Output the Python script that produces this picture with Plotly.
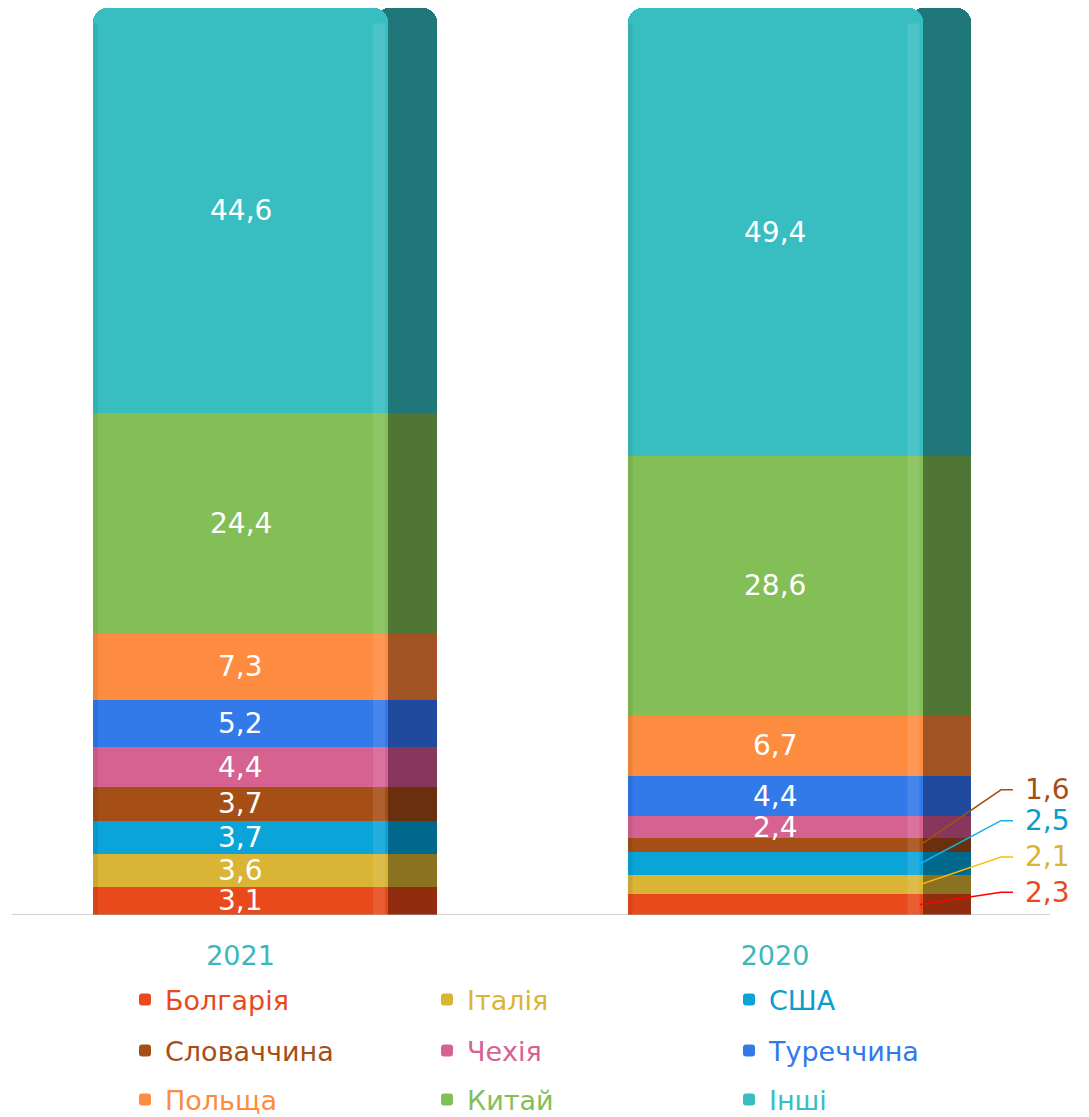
import plotly.graph_objects as go

# Import structure by country, % of total
years = ["2021", "2020"]
countries = ["Болгарія", "Італія", "США", "Словаччина", "Чехія",
             "Туреччина", "Польща", "Китай", "Інші"]
share_2021 = [3.1, 3.6, 3.7, 3.7, 4.4, 5.2, 7.3, 24.4, 44.6]
share_2020 = [2.3, 2.1, 2.5, 1.6, 2.4, 4.4, 6.7, 28.6, 49.4]

# Front face colour, side face colour and label colour for every country
front_colors = ["#E84A1B", "#DAB434", "#0AA4D9", "#A54F17", "#D66292",
                "#3279EA", "#FD8C40", "#84BE57", "#38BEC1"]
side_colors = ["#922C0E", "#8B7221", "#00688A", "#6A300D", "#87375C",
               "#1F4A9D", "#A15324", "#4F7634", "#20777A"]
text_colors = ["#E84A1B", "#DAB434", "#0A9CCF", "#A54F17", "#D66292",
               "#3279EA", "#FD8C40", "#84BE57", "#38BEC1"]
leader_colors = {"Болгарія": "#FF0000", "Італія": "#FFC000",
                 "США": "#12B0F0", "Словаччина": "#A54F17"}

# Geometry (x axis is laid out in pixels across the page width)
W, H = 1089, 1117
front_x = [240.5, 775.0]
front_w = 295
side_x = [406.0, 939.5]
side_w = 62
top_margin, bottom_margin = 8, 202

# Labels of thin 2020 segments are placed outside the bar
outside_2020 = {"Болгарія": 2.5, "Італія": 6.4, "США": 10.4, "Словаччина": 13.8}

FONT = "DejaVu Sans"

fig = go.Figure()

# side faces first so the front faces sit on top
for i, c in enumerate(countries):
    fig.add_trace(go.Bar(
        x=side_x, y=[share_2021[i], share_2020[i]], width=side_w,
        marker=dict(color=side_colors[i], line=dict(width=0)),
        showlegend=False, hoverinfo="skip",
    ))

legend_ids = ["legend", "legend", "legend",
              "legend2", "legend2", "legend2",
              "legend3", "legend3", "legend3"]
for i, c in enumerate(countries):
    fig.add_trace(go.Bar(
        x=front_x, y=[share_2021[i], share_2020[i]], width=front_w,
        marker=dict(color=front_colors[i], line=dict(width=0)),
        name=f"<span style='color:{text_colors[i]}'>{c}</span>",
        legend=legend_ids[i],
        hovertemplate=c + ": %{y}<extra></extra>",
    ))

def fmt(v):
    return f"{v:.1f}".replace(".", ",")

annotations = []
for col, values in enumerate([share_2021, share_2020]):
    cum = 0.0
    for i, v in enumerate(values):
        mid = cum + v / 2
        cum += v
        name = countries[i]
        if col == 1 and name in outside_2020:
            ly = outside_2020[name]
            fig.add_trace(go.Scatter(
                x=[920, 1001, 1013], y=[mid, ly, ly], mode="lines",
                line=dict(color=leader_colors[name], width=1.5),
                showlegend=False, hoverinfo="skip",
            ))
            annotations.append(dict(
                x=1023, y=ly, xref="x", yref="y", text=fmt(v),
                showarrow=False, xanchor="left", yanchor="middle",
                font=dict(family=FONT, size=28, color=text_colors[i]),
            ))
        else:
            annotations.append(dict(
                x=front_x[col], y=mid, xref="x", yref="y", text=fmt(v),
                showarrow=False, xanchor="center", yanchor="middle",
                font=dict(family=FONT, size=28, color="white"),
            ))

# soft shading on the front faces
shapes = []
for cx in front_x:
    left = cx - front_w / 2
    right = cx + front_w / 2
    shapes.append(dict(type="rect", xref="x", yref="y", x0=right - 15, x1=right - 3,
                       y0=0, y1=98.3, line=dict(width=0),
                       fillcolor="rgba(255,255,255,0.10)", layer="above"))
    shapes.append(dict(type="rect", xref="x", yref="y", x0=left, x1=left + 5,
                       y0=0, y1=98.3, line=dict(width=0),
                       fillcolor="rgba(0,0,0,0.07)", layer="above"))
# baseline
shapes.append(dict(type="line", xref="x", yref="y", x0=12, x1=1050, y0=0, y1=0,
                   line=dict(color="#A6A6A6", width=1.2), layer="above"))

plot_h = H - top_margin - bottom_margin

def py(pix):
    return (H - bottom_margin - pix) / plot_h

legend_common = dict(orientation="h", xanchor="left", yanchor="middle",
                     x=125 / W, entrywidth=257, entrywidthmode="pixels",
                     font=dict(family=FONT, size=27), traceorder="normal",
                     bgcolor="rgba(0,0,0,0)", itemclick=False, itemdoubleclick=False)

fig.update_layout(
    width=W, height=H,
    margin=dict(l=0, r=0, t=top_margin, b=bottom_margin, autoexpand=False),
    paper_bgcolor="white", plot_bgcolor="white",
    barmode="stack", barcornerradius=14, bargap=0,
    xaxis=dict(range=[0, W], showgrid=False, zeroline=False, showline=False,
               tickvals=front_x, ticktext=years, ticks="outside", ticklen=17,
               tickcolor="rgba(0,0,0,0)",
               tickfont=dict(family=FONT, size=27, color="#3AB8BB"),
               fixedrange=True),
    yaxis=dict(range=[0, 100], visible=False, fixedrange=True),
    legend=dict(legend_common, y=py(1000)),
    legend2=dict(legend_common, y=py(1051)),
    legend3=dict(legend_common, y=py(1100)),
    annotations=annotations,
    shapes=shapes,
    font=dict(family=FONT),
)

fig.write_html("out.html")
